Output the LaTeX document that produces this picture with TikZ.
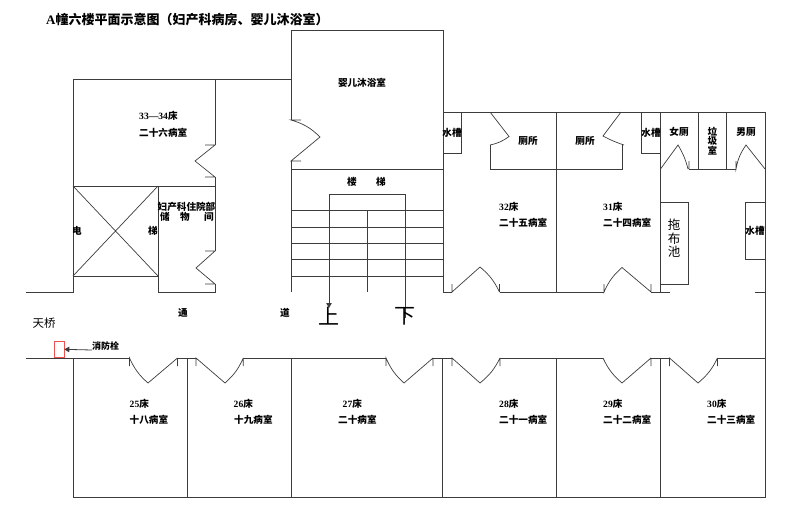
\documentclass[tikz,border=0pt]{standalone}
\usepackage{fontspec}
\setmainfont{Noto Sans CJK SC}
\newfontfamily\latn{Liberation Serif}[Scale=1.0]
\usetikzlibrary{arrows.meta}
\definecolor{wall}{HTML}{3C3C3C}
\tikzset{
  wallline/.style={draw=wall,line width=0.9pt,line join=miter},
  thinline/.style={draw=wall,line width=0.7pt},
  lbl/.style={inner sep=0pt,font=\fontsize{9.6}{10}\selectfont\bfseries,text=black},
  lleft/.style={lbl,anchor=west},
  big/.style={inner sep=0pt,font=\fontsize{21}{22}\selectfont,text=black},
}
\newcommand{\LT}[1]{{\latn\bfseries #1}}
\begin{document}
\begin{tikzpicture}[x=1pt,y=-1pt]
\useasboundingbox (0,0) rectangle (800,522);
% outer left block
\draw[wallline] (26,292) -- (73,292) -- (73,79) -- (291,79);
\draw[wallline] (215,79) -- (215,145);
\draw[thinline] (205,145) -- (215,145) -- (195,161) -- (215,177) -- (205,177);
\draw[wallline] (215,177) -- (215,251);
\draw[thinline] (205,251) -- (215,251) -- (196,268) -- (215,284) -- (205,284);
\draw[wallline] (215,284) -- (215,292) -- (158,292) -- (158,186);
\draw[wallline] (73,186) -- (215,186);
\draw[wallline] (73,276) -- (158,276);
\draw[thinline] (73,186) -- (158,276) (158,186) -- (73,276);
% baby bath
\draw[wallline] (291,120) -- (291,30) -- (443,30) -- (443,292);
\draw[thinline] (301,120) -- (291,120) to[bend left=14] (320,137) -- (291,161) -- (301,161);
\draw[wallline] (291,161) -- (291,292);
\draw[wallline] (291,169) -- (443,169);
% stairs
\foreach \yy in {210,227,243,259.5,276} \draw[wallline] (291,\yy) -- (443,\yy);
\draw[wallline] (405,318) -- (405,194) -- (329,194) -- (329,303);
\draw[wallline] (367,210) -- (367,292);
\coordinate (arrowtip) at (329,308);
\coordinate (arrowbase) at (329,300);
\draw[wall,line width=0.9pt,-{Triangle[length=5pt,width=5.5pt]}] (arrowbase) -- (arrowtip);
% right block
\draw[wallline] (443,112) -- (765,112) -- (765,497.5) -- (73,497.5) -- (73,358);
\draw[wallline] (443,153) -- (461.5,153) -- (461.5,112);
\draw[wallline] (641.5,112) -- (641.5,153) -- (660.5,153);
\draw[wallline] (556,112) -- (556,292);
\draw[wallline] (660.5,112) -- (660.5,292);
% toilets
\draw[thinline] (490,112) -- (509,136.5) to[bend left=12] (490,145) ;
\draw[wallline] (490,145) -- (490,169) -- (622.5,169) -- (622.5,145);
\draw[thinline] (621,112) -- (603,136) to[bend right=5] (624,145);
\draw[thinline] (660.5,169) -- (678,145) to[bend left=8] (688,169) (689,161) -- (689,169);
\draw[wallline] (689,169) -- (736,169);
\draw[thinline] (736,161) -- (736,169) to[bend left=12] (746,145) -- (765,169);
\draw[wallline] (698.5,112) -- (698.5,169) (726.7,112) -- (726.7,169);
\draw[wallline] (660.5,202) -- (688,202) -- (688,284) -- (660.5,284);
\draw[wallline] (765,202) -- (745,202) -- (745,259.5) -- (765,259.5);
% upper corridor wall
\draw[wallline] (443,292) -- (452,292);
\draw[thinline] (452,284) -- (452,292) -- (480,267) to[bend left=12] (499.5,292) (499.5,284) -- (499.5,292);
\draw[wallline] (499.5,292) -- (604,292);
\draw[thinline] (604,284) -- (604,292) to[bend left=12] (622,267.5) -- (651,292) (651,284) -- (651,292);
\draw[wallline] (651,292) -- (670,292);
\draw[wallline] (754.5,292) -- (765,292);
% lower corridor wall
\draw[wallline] (26,358) -- (129.5,358);
\draw[thinline] (129.5,366) -- (129.5,358) to[bend right=12] (148,383) -- (177.5,358) (177.5,366) -- (177.5,358);
\draw[wallline] (177.5,358) -- (196,358);
\draw[thinline] (196,366) -- (196,358) -- (225,383) to[bend right=12] (243.3,358) (243.3,366) -- (243.3,358);
\draw[wallline] (243.3,358) -- (386,358);
\draw[thinline] (386,366) -- (386,358) to[bend right=12] (404,383) -- (433,358) (433,366) -- (433,358);
\draw[wallline] (433,358) -- (452,358);
\draw[thinline] (452,366) -- (452,358) -- (480,383) to[bend right=12] (500,358) (500,366) -- (500,358);
\draw[wallline] (500,358) -- (603,358);
\draw[thinline] (603,358) to[bend right=12] (622,383) -- (651,358) (651,366) -- (651,358);
\draw[wallline] (651,358) -- (669.5,358);
\draw[thinline] (669.5,366) -- (669.5,358) -- (698,383) to[bend right=12] (717.5,358) (717.5,366) -- (717.5,358);
\draw[wallline] (717.5,358) -- (765,358);
% ward walls
\foreach \xx in {187,291,442.5,556,660.5} \draw[wallline] (\xx,358) -- (\xx,497.5);
% hydrant
\node[draw={rgb,255:red,240;green,80;blue,80},line width=0.8pt,minimum width=9.5pt,minimum height=16.5pt,inner sep=0pt,anchor=south west] (hydrant) at (54,358) {};
\node[lbl,font=\fontsize{9}{10}\selectfont\bfseries,anchor=west] (hydrantlabel) at (92,346) {消防栓};
\coordinate (hydrantstart) at (92,350);
\draw[wall,line width=0.8pt,-{Triangle[length=5pt,width=5.5pt]}] (hydrantstart) -- (hydrant.east);
% labels
\node[inner sep=0pt,anchor=west,font=\fontsize{13}{14}\selectfont\bfseries] (title) at (46,20) {\LT{A}幢六楼平面示意图（妇产科病房、婴儿沐浴室）};
\node[inner sep=0pt,font=\fontsize{11.5}{12}\selectfont] (bridge) at (44,323) {天桥};
\node[lleft] (r26a) at (139,116) {\LT{33—34}床};
\node[lleft] (r26b) at (139,133) {二十六病室};
\node[lbl] (bath) at (362,83) {婴儿沐浴室};
\node[lbl] (elev1) at (77,231) {电};
\node[lbl] (elev2) at (153,231) {梯};
\node[lbl] (store1) at (186.5,207) {妇产科住院部};
\node[lbl] (store2) at (165,217) {储};
\node[lbl] (store3) at (185,217) {物};
\node[lbl] (store4) at (209,217) {间};
\node[lbl] (stair1) at (352,182) {楼};
\node[lbl] (stair2) at (381,182) {梯};
\node[lbl] (corr1) at (183,313) {通};
\node[lbl] (corr2) at (285,313) {道};
\node[big] (up) at (329,316) {上};
\node[big] (down) at (405,316) {下};
\node[lbl] (tank1) at (452,133) {水槽};
\node[lbl] (tank2) at (651,133) {水槽};
\node[lbl] (tank3) at (755,231) {水槽};
\node[lbl] (wc1) at (528,141) {厕所};
\node[lbl] (wc2) at (585,141) {厕所};
\node[lbl] (wc3) at (679,132) {女厕};
\node[lbl] (wc4) at (746,132) {男厕};
\node[lbl,font=\fontsize{9.6}{9}\selectfont\bfseries,align=center] (trash) at (712.5,141.5) {垃\\圾\\室};
\node[lbl,font=\fontsize{12.5}{13.5}\selectfont,align=center] (mop) at (674,238.5) {拖\\布\\池};
\node[lleft] (r25a) at (499,206.5) {\LT{32}床};
\node[lleft] (r25b) at (499,223) {二十五病室};
\node[lleft] (r24a) at (603,206.5) {\LT{31}床};
\node[lleft] (r24b) at (603,223) {二十四病室};
\node[lleft] (r18a) at (129.5,403.5) {\LT{25}床};
\node[lleft] (r18b) at (129.5,420) {十八病室};
\node[lleft] (r19a) at (233.5,403.5) {\LT{26}床};
\node[lleft] (r19b) at (234,420) {十九病室};
\node[lleft] (r20a) at (342.5,403.5) {\LT{27}床};
\node[lleft] (r20b) at (338,420) {二十病室};
\node[lleft] (r21a) at (499,403.5) {\LT{28}床};
\node[lleft] (r21b) at (499,420) {二十一病室};
\node[lleft] (r22a) at (603,403.5) {\LT{29}床};
\node[lleft] (r22b) at (603,420) {二十二病室};
\node[lleft] (r23a) at (707,403.5) {\LT{30}床};
\node[lleft] (r23b) at (707,420) {二十三病室};
\end{tikzpicture}
\end{document}
